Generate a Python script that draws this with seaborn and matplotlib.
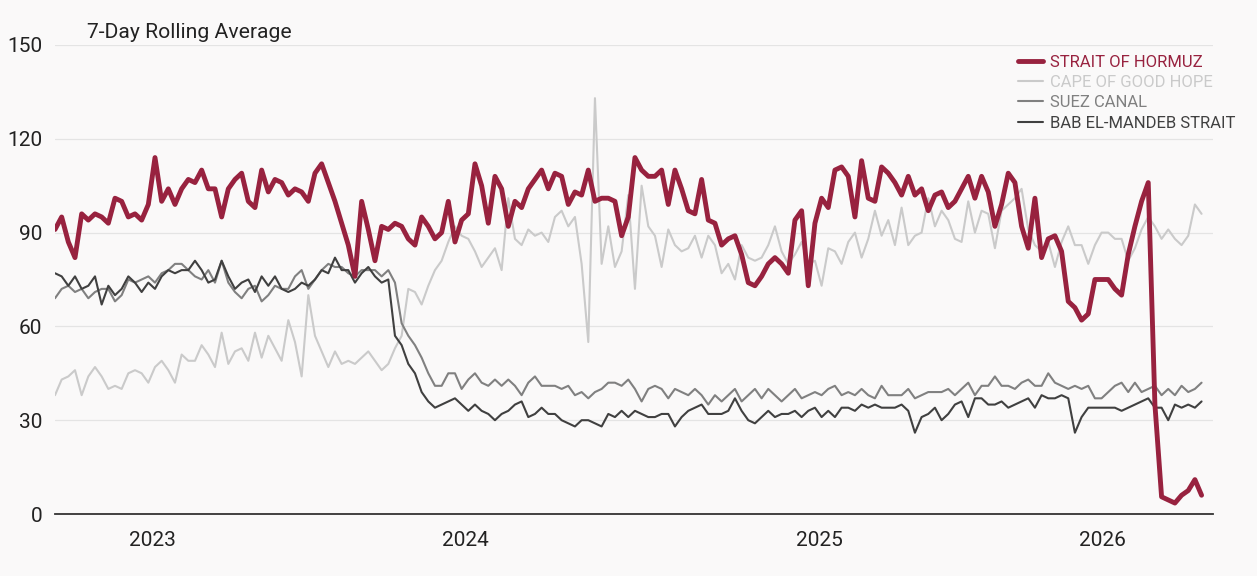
import pandas as pd
import matplotlib
matplotlib.use("Agg")
import matplotlib.pyplot as plt
import seaborn as sns

# weekly samples
dates = pd.date_range("2023-01-01", periods=173, freq="7D")

hormuz = [91, 95, 87, 82, 96, 94, 96, 95, 93, 101, 100, 95, 96, 94, 99, 114, 100, 104, 99, 104,
          107, 106, 110, 104, 104, 95, 104, 107, 109, 100, 98, 110, 103, 107, 106, 102, 104, 103, 100, 109,
          112, 106, 100, 93, 86,
          76, 100, 91, 81, 92, 91, 93, 92, 88, 86, 95, 92, 88, 90, 100, 87, 94, 96, 112, 105,
          93, 108, 104, 92, 100, 98, 104, 107, 110, 104, 109, 108, 99, 103, 102, 110, 100, 101, 101, 100,
          89, 95, 114,
          110, 108, 108, 110, 99, 110, 104, 97, 96, 107, 94, 93, 86, 88, 89, 83, 74, 73, 76, 80,
          82, 80, 77, 94, 97, 73, 93, 101, 98, 110, 111, 108, 95, 113, 101, 100, 111, 109, 106, 102,
          108, 102, 104, 97,
          102, 103, 98, 100, 104, 108, 101, 108, 103, 92, 99, 109, 106, 92, 85, 101, 82, 88, 89, 84,
          68, 66, 62, 64, 75, 75, 75, 72, 70, 83, 92, 100, 106, 35, 5.5, 4.5, 3.5, 6, 7.5, 11, 6]

cape = [38, 43, 44, 46, 38, 44, 47, 44, 40, 41, 40, 45, 46, 45, 42, 47, 49, 46, 42, 51,
        49, 49, 54, 51, 47, 58, 48, 52, 53, 49, 58, 50, 57, 53, 49, 62, 55, 44, 70, 57,
        52, 47, 52, 48, 49,
        48, 50, 52, 49, 46, 48, 53, 57, 72, 71, 67, 73, 78, 81, 87, 92, 89, 88, 84, 79,
        82, 85, 78, 101, 88, 86, 91, 89, 90, 87, 95, 97, 92, 95, 80, 55, 133, 80, 92, 79,
        84, 102, 72,
        105, 92, 89, 79, 91, 86, 84, 85, 89, 82, 89, 86, 77, 80, 75, 86, 82, 81, 82, 86,
        92, 84, 80, 83, 87, 80, 81, 73, 85, 84, 80, 87, 90, 82, 88, 97, 89, 94, 86, 98,
        86, 89, 90, 101,
        92, 97, 94, 88, 87, 100, 90, 97, 96, 85, 97, 99, 101, 104, 91, 86, 84, 87, 79, 87,
        92, 86, 86, 80, 86, 90, 90, 88, 88, 81, 85, 91, 95, 92, 88, 91, 88, 86, 89, 99, 96]

suez = [69, 72, 73, 71, 72, 69, 71, 72, 72, 68, 70, 75, 74, 75, 76, 74, 77, 78, 80, 80,
        78, 76, 75, 78, 74, 81, 74, 71, 69, 72, 73, 68, 70, 73, 72, 72, 76, 78, 72, 75,
        78, 80, 79, 79, 77,
        76, 78, 78, 78, 76, 78, 74, 61, 57, 54, 50, 45, 41, 41, 45, 45, 40, 43, 45, 42,
        41, 43, 41, 43, 41, 38, 42, 44, 41, 41, 41, 40, 41, 38, 39, 37, 39, 40, 42, 42,
        41, 43, 40,
        36, 40, 41, 40, 37, 40, 39, 38, 40, 38, 35, 38, 36, 38, 40, 36, 38, 40, 37, 40,
        38, 36, 38, 40, 37, 38, 39, 38, 40, 41, 38, 39, 38, 40, 38, 37, 41, 38, 38, 38,
        40, 37, 38, 39,
        39, 39, 40, 38, 40, 42, 38, 41, 41, 44, 41, 41, 40, 42, 43, 41, 41, 45, 42, 41,
        40, 41, 40, 41, 37, 37, 39, 41, 42, 39, 42, 39, 40, 41, 38, 40, 38, 41, 39, 40, 42]

bab = [77, 76, 73, 76, 72, 73, 76, 67, 73, 70, 72, 76, 74, 71, 74, 72, 76, 78, 77, 78,
       78, 81, 78, 74, 75, 81, 76, 72, 74, 75, 71, 76, 73, 76, 72, 71, 72, 74, 73, 75,
       78, 77, 82, 78, 78,
       74, 77, 79, 76, 74, 75, 57, 54, 48, 45, 39, 36, 34, 35, 36, 37, 35, 33, 35, 33,
       32, 30, 32, 33, 35, 36, 31, 32, 34, 32, 32, 30, 29, 28, 30, 30, 29, 28, 32, 31,
       33, 31, 33,
       32, 31, 31, 32, 32, 28, 31, 33, 34, 35, 32, 32, 32, 33, 37, 33, 30, 29, 31, 33,
       31, 32, 32, 33, 31, 33, 34, 31, 33, 31, 34, 34, 33, 35, 34, 35, 34, 34, 34, 35,
       33, 26, 31, 32,
       34, 30, 32, 35, 36, 31, 37, 37, 35, 35, 36, 34, 35, 36, 37, 34, 38, 37, 37, 38,
       37, 26, 31, 34, 34, 34, 34, 34, 33, 34, 35, 36, 37, 34, 34, 30, 35, 34, 35, 34, 36]

year_labels = ["2023", "2024", "2025", "2026"]
label_dates = pd.to_datetime(["2023-04-13", "2024-03-07", "2025-03-14", "2026-01-05"])
tick_dates = pd.to_datetime(["2023-09-03", "2024-09-09", "2025-09-17"])

df = pd.DataFrame({"date": dates,
                   "STRAIT OF HORMUZ": hormuz,
                   "CAPE OF GOOD HOPE": cape,
                   "SUEZ CANAL": suez,
                   "BAB EL-MANDEB STRAIT": bab})
long = df.melt("date", var_name="route", value_name="transits")

bg = "#faf9f9"
styles = {  # drawn in this order
    "CAPE OF GOOD HOPE": ("#cacaca", 1.5, 2),
    "SUEZ CANAL": ("#808080", 1.5, 3),
    "BAB EL-MANDEB STRAIT": ("#404040", 1.5, 4),
    "STRAIT OF HORMUZ": ("#98223f", 3.5, 5),
}
legend_order = ["STRAIT OF HORMUZ", "CAPE OF GOOD HOPE", "SUEZ CANAL", "BAB EL-MANDEB STRAIT"]

sns.set_theme(style="white")
plt.rcParams["font.family"] = ["Roboto", "DejaVu Sans"]

fig = plt.figure(figsize=(12.57, 5.76), dpi=100, facecolor=bg)
ax = fig.add_axes([55 / 1257, 1 - 514 / 576, (1213 - 55) / 1257, (514 - 45) / 576])
ax.set_facecolor(bg)

for name, (col, lw, z) in styles.items():
    sns.lineplot(data=long[long.route == name], x="date", y="transits", color=col,
                 linewidth=lw, ax=ax, label=name, zorder=z)

ax.set_ylim(0, 150)
ax.set_yticks([0, 30, 60, 90, 120, 150])
ax.set_xlim(dates[0], pd.Timestamp("2026-05-01"))
ax.set_xticks(label_dates, year_labels)
ax.set_xticks(tick_dates, minor=True)
ax.tick_params(axis="y", length=0, pad=9, labelsize=15, labelcolor="#222222")
ax.tick_params(axis="x", which="major", length=0, pad=12, labelsize=15, labelcolor="#222222")
ax.tick_params(axis="x", which="minor", length=11, width=1, color="#dddddd")
ax.set_xlabel("")
ax.set_ylabel("")
ax.grid(axis="y", color="#e4e4e4", linewidth=0.9)
ax.grid(axis="x", visible=False)
ax.set_axisbelow(True)
for s in ["left", "right", "top"]:
    ax.spines[s].set_visible(False)
ax.spines["bottom"].set_color("#333333")
ax.spines["bottom"].set_linewidth(1.3)
ax.spines["bottom"].set_zorder(6)

handles, labels = ax.get_legend_handles_labels()
hmap = dict(zip(labels, handles))
ax.legend([hmap[n] for n in legend_order], legend_order, loc="upper left",
          bbox_to_anchor=(1018 / 1257, 1 - 55 / 576), bbox_transform=fig.transFigure,
          frameon=False, fontsize=12, handlelength=1.5, handletextpad=0.42,
          labelspacing=0.31, borderpad=0, borderaxespad=0, labelcolor="linecolor")

fig.text(87 / 1257, 1 - 38.5 / 576, "7-Day Rolling Average", fontsize=15.2,
         color="#222222", va="baseline", ha="left")

fig.savefig("out.png", dpi=100, facecolor=bg)
